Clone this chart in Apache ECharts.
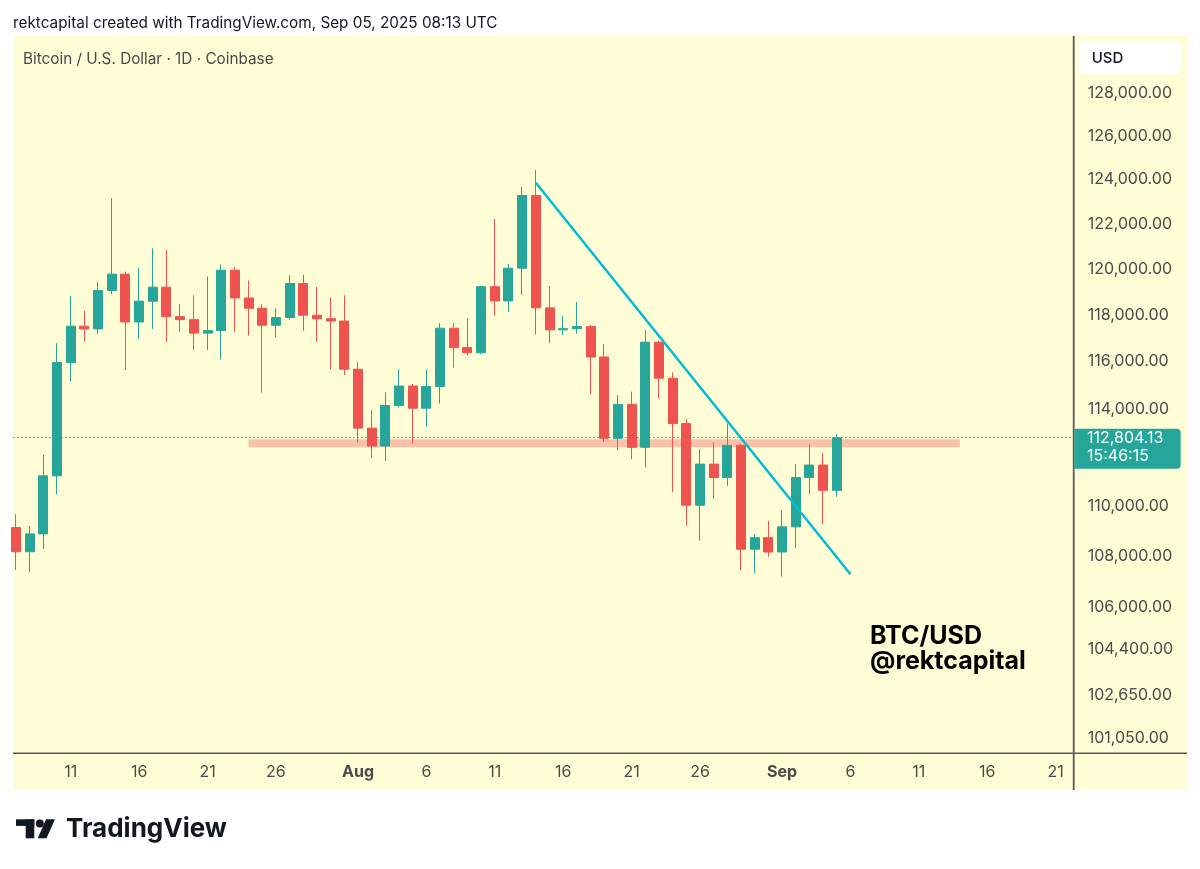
<!DOCTYPE html>
<html>
<head>
<meta charset="utf-8">
<script src="https://cdn.jsdelivr.net/npm/echarts@6/dist/echarts.min.js"></script>
<style>
  html, body { margin: 0; padding: 0; background: #ffffff; }
  #chart { width: 1200px; height: 869px; }
</style>
</head>
<body>
<div id="chart"></div>
<script>
// daily candles, BTC/USD Coinbase
const days = [
  '2025-07-07', '2025-07-08', '2025-07-09', '2025-07-10', '2025-07-11', '2025-07-12', '2025-07-13',
  '2025-07-14', '2025-07-15', '2025-07-16', '2025-07-17', '2025-07-18', '2025-07-19', '2025-07-20',
  '2025-07-21', '2025-07-22', '2025-07-23', '2025-07-24', '2025-07-25', '2025-07-26', '2025-07-27',
  '2025-07-28', '2025-07-29', '2025-07-30', '2025-07-31', '2025-08-01', '2025-08-02', '2025-08-03',
  '2025-08-04', '2025-08-05', '2025-08-06', '2025-08-07', '2025-08-08', '2025-08-09', '2025-08-10',
  '2025-08-11', '2025-08-12', '2025-08-13', '2025-08-14', '2025-08-15', '2025-08-16', '2025-08-17',
  '2025-08-18', '2025-08-19', '2025-08-20', '2025-08-21', '2025-08-22', '2025-08-23', '2025-08-24',
  '2025-08-25', '2025-08-26', '2025-08-27', '2025-08-28', '2025-08-29', '2025-08-30', '2025-08-31',
  '2025-09-01', '2025-09-02', '2025-09-03', '2025-09-04', '2025-09-05'
];
const opens = [
  109150, 108190, 108900, 111240, 115950, 117510, 117390,
  119050, 119770, 117690, 118590, 119200, 117920, 117790,
  117210, 117320, 119940, 118730, 118280, 117550, 117880,
  119360, 117980, 117830, 117730, 115670, 113200, 112460,
  114140, 114960, 114030, 114940, 117420, 116590, 116370,
  119220, 118600, 120030, 123270, 118300, 117350, 117400,
  117490, 116190, 112780, 114190, 112410, 116820, 115290,
  113390, 110050, 111720, 111170, 112490, 108290, 108750,
  108180, 109180, 111170, 111680, 110650
];
const closes = [
  108190, 108900, 111240, 115950, 117510, 117390, 119050,
  119770, 117690, 118590, 119200, 117920, 117790, 117210,
  117320, 119940, 118730, 118280, 117550, 117880, 119360,
  117980, 117830, 117730, 115670, 113200, 112460, 114140,
  114960, 114030, 114940, 117420, 116590, 116370, 119220,
  118600, 120030, 123270, 118300, 117350, 117400, 117490,
  116190, 112780, 114190, 112410, 116820, 115290, 113390,
  110050, 111720, 111170, 112490, 108290, 108750, 108180,
  109180, 111170, 111680, 110650, 112804.13
];
const lows = [
  107470, 107390, 108300, 110490, 115150, 116850, 117180,
  118890, 115630, 116960, 117390, 116830, 117260, 116480,
  116490, 116090, 117260, 117100, 114680, 117030, 117780,
  117310, 116830, 115670, 115430, 112600, 111960, 111850,
  114070, 112580, 113260, 114220, 115740, 116260, 116300,
  117960, 118120, 118860, 117150, 116780, 117130, 117180,
  114620, 112640, 112300, 111920, 111590, 114430, 110570,
  109230, 108630, 110310, 110830, 107460, 107340, 107990,
  107210, 108340, 110490, 109290, 110390
];
const highs = [
  109690, 109220, 112100, 116780, 118820, 118170, 119430,
  123150, 119880, 120040, 120910, 120830, 118470, 118850,
  119660, 120200, 120080, 119490, 118460, 118280, 119720,
  119750, 119200, 118750, 118850, 115980, 113950, 114700,
  115670, 115050, 115670, 117640, 117640, 117850, 119260,
  122220, 120220, 123670, 124430, 119260, 117940, 118560,
  117560, 116730, 114570, 114720, 117340, 116890, 115540,
  113570, 112330, 112620, 113390, 112530, 108890, 109420,
  109830, 111720, 112530, 112170, 112950
];

const yTicks = [128000, 126000, 124000, 122000, 120000, 118000, 116000, 114000,
  110000, 108000, 106000, 104400, 102650, 101050];
const xTickDates = ['2025-07-11', '2025-07-16', '2025-07-21', '2025-07-26', '2025-08-01',
  '2025-08-06', '2025-08-11', '2025-08-16', '2025-08-21', '2025-08-26', '2025-09-01',
  '2025-09-06', '2025-09-11', '2025-09-16', '2025-09-21'];
const xTickLabels = ['11', '16', '21', '26', 'Aug', '6', '11', '16', '21', '26', 'Sep',
  '6', '11', '16', '21'];

const trendDates = ['2025-08-14', '2025-09-06'];
const trendPrices = [123850, 107300];
const zoneDates = ['2025-07-24', '2025-09-14'];
const zonePrices = [112410, 112740];
const lastPrice = 112804.13;
const countdown = '15:46:15';

const UP = '#26a69a';
const DOWN = '#ef5350';
const FONT = 'Inter';

const dayIndex = d => Math.round((Date.parse(d) - Date.parse(days[0])) / 86400000);
const fmtPrice = v => v.toLocaleString('en-US', { minimumFractionDigits: 2, maximumFractionDigits: 2 });

const candles = days.map((d, i) => [i, opens[i], closes[i], lows[i], highs[i]]);

const chart = echarts.init(document.getElementById('chart'), null, { renderer: 'canvas' });

// price scale labels, hung on invisible mark lines so they sit on the log scale
const tickLines = yTicks.map(v => ({
  yAxis: v,
  lineStyle: { color: 'rgba(0,0,0,0)', width: 1, type: 'solid' },
  label: {
    show: true, position: 'end', distance: 14,
    formatter: fmtPrice(v), color: '#4a4a4a', fontSize: 16, fontFamily: FONT
  }
}));

chart.setOption({
  animation: false,
  backgroundColor: '#ffffff',
  grid: { left: 13, top: 36, right: 126.3, bottom: 115.7 },
  xAxis: {
    type: 'value',
    min: -0.22,
    max: 77.32,
    axisLine: { show: false },
    axisTick: { show: false },
    splitLine: { show: false },
    axisLabel: {
      customValues: xTickDates.map(dayIndex),
      margin: 11,
      color: '#4a4a4a',
      fontSize: 16,
      fontFamily: FONT,
      formatter: v => {
        const k = xTickDates.findIndex(d => dayIndex(d) === Math.round(v));
        const t = k < 0 ? '' : xTickLabels[k];
        return /[A-Za-z]/.test(t) ? '{b|' + t + '}' : t;
      },
      rich: { b: { fontWeight: 'bold', color: '#4a4a4a', fontSize: 16, fontFamily: FONT } }
    }
  },
  yAxis: {
    type: 'log',
    logBase: 10,
    position: 'right',
    min: 100490,
    max: 130686,
    axisLine: { show: false },
    axisTick: { show: false },
    axisLabel: { show: false },
    splitLine: { show: false }
  },
  series: [
    {
      type: 'candlestick',
      data: candles,
      barWidth: 9.5,
      clip: false,
      itemStyle: {
        color: UP, color0: DOWN,
        borderColor: UP, borderColor0: DOWN,
        borderWidth: 1
      },
      markArea: {
        silent: true,
        itemStyle: { color: 'rgba(242, 120, 110, 0.45)' },
        data: [[
          { xAxis: dayIndex(zoneDates[0]), yAxis: zonePrices[1] },
          { xAxis: dayIndex(zoneDates[1]), yAxis: zonePrices[0] }
        ]]
      },
      markLine: {
        silent: true,
        symbol: 'none',
        data: tickLines.concat([{
          yAxis: lastPrice,
          lineStyle: { color: UP, type: [1.5, 2.5], width: 1.2 },
          label: { show: false }
        }])
      }
    },
    {
      type: 'line',
      data: trendDates.map((d, i) => [dayIndex(d), trendPrices[i]]),
      symbol: 'none',
      silent: true,
      z: 5,
      lineStyle: { color: '#00bcd4', width: 2.5 }
    }
  ]
});

const yLast = chart.convertToPixel({ yAxisIndex: 0 }, lastPrice);

chart.setOption({
  graphic: [
    { type: 'rect', z: -10, silent: true, shape: { x: 13, y: 36, width: 1174, height: 754 },
      style: { fill: '#fffdd6' } },
    { type: 'line', z: 10, silent: true, shape: { x1: 13, y1: 753.3, x2: 1187, y2: 753.3 },
      style: { stroke: '#5a5a5a', lineWidth: 1.5 } },
    { type: 'line', z: 10, silent: true, shape: { x1: 1073.7, y1: 36, x2: 1073.7, y2: 790 },
      style: { stroke: '#5a5a5a', lineWidth: 1.8 } },
    { type: 'text', x: 13, y: 23, style: {
      text: 'rektcapital created with TradingView.com, Sep 05, 2025 08:13 UTC',
      fill: '#131722', font: '15.3px Inter', verticalAlign: 'middle' } },
    { type: 'text', x: 23, y: 59, style: {
      text: 'Bitcoin / U.S. Dollar · 1D · Coinbase',
      fill: '#4a4a4a', font: '15.3px Inter', verticalAlign: 'middle' } },
    { type: 'rect', z: 10, shape: { x: 1078.7, y: 40.7, width: 102.3, height: 33.6, r: 5 },
      style: { fill: '#ffffff' } },
    { type: 'text', z: 11, x: 1091.7, y: 58, style: {
      text: 'USD', fill: '#131722', font: '500 15px Inter', verticalAlign: 'middle' } },
    { type: 'rect', z: 10, shape: { x: 1074.3, y: yLast - 9, width: 106.4, height: 40, r: [0, 4, 4, 0] },
      style: { fill: UP } },
    { type: 'text', z: 11, x: 1087, y: yLast + 0.5, style: {
      text: fmtPrice(lastPrice), fill: '#ffffff', font: '16px Inter', verticalAlign: 'middle' } },
    { type: 'text', z: 11, x: 1087, y: yLast + 18, style: {
      text: countdown, fill: '#ffffff', font: '16px Inter', verticalAlign: 'middle' } },
    { type: 'text', z: 11, x: 870, y: 636, style: {
      text: 'BTC/USD', fill: '#000000', font: 'bold 25px Inter', verticalAlign: 'middle' } },
    { type: 'text', z: 11, x: 870, y: 661, style: {
      text: '@rektcapital', fill: '#000000', font: 'bold 25px Inter', verticalAlign: 'middle' } },
    // TradingView logo
    { type: 'rect', shape: { x: 16, y: 819.3, width: 18.3, height: 6.6 }, style: { fill: '#131722' } },
    { type: 'rect', shape: { x: 25.7, y: 819.3, width: 8.6, height: 19 }, style: { fill: '#131722' } },
    { type: 'circle', shape: { cx: 39.8, cy: 823.5, r: 4 }, style: { fill: '#131722' } },
    { type: 'polygon', shape: { points: [[46, 819.3], [55, 819.3], [46.5, 838.3], [37.8, 838.3]] },
      style: { fill: '#131722' } },
    { type: 'text', x: 66, y: 829, style: {
      text: 'TradingView', fill: '#131722', font: 'bold 26px Inter', verticalAlign: 'middle' } }
  ]
});
</script>
</body>
</html>
